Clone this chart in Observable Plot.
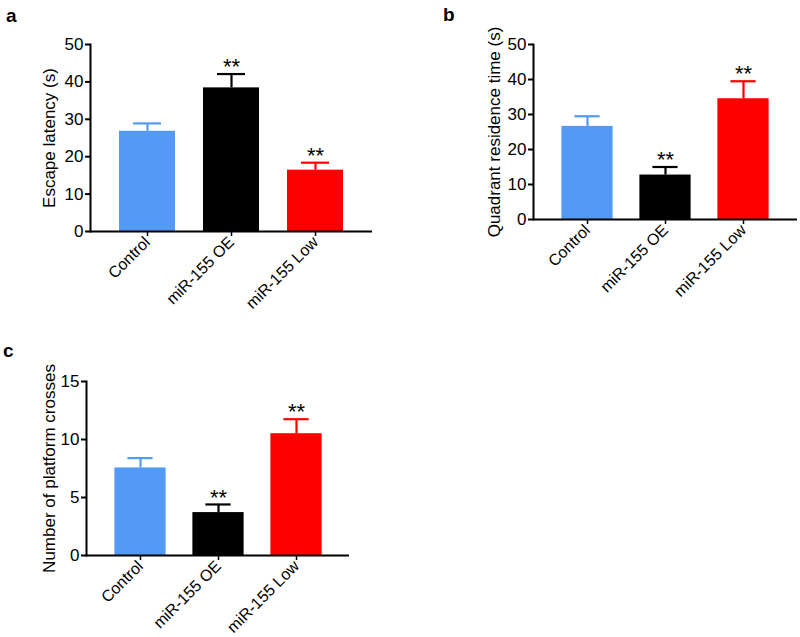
<!DOCTYPE html>
<html>
<head>
<meta charset="utf-8">
<script src="https://cdn.jsdelivr.net/npm/d3@7"></script>
<script src="https://cdn.jsdelivr.net/npm/@observablehq/plot@0.6"></script>
<style>
  html, body { margin: 0; padding: 0; background: #fff; }
  #root { position: relative; width: 800px; height: 637px; overflow: hidden; font-family: "Liberation Sans", Arial, sans-serif; }
  .panel { position: absolute; }
  .letter { position: absolute; font-weight: bold; font-size: 19px; line-height: 1; color: #000; }
</style>
</head>
<body>
<div id="root">
  <div class="letter" style="left:6px; top:6px;">a</div>
  <div class="letter" style="left:443px; top:5px;">b</div>
  <div class="letter" style="left:3px; top:341px;">c</div>
  <div id="pa" class="panel" style="left:0px; top:0px;"></div>
  <div id="pb" class="panel" style="left:420px; top:0px;"></div>
  <div id="pc" class="panel" style="left:0px; top:340px;"></div>
</div>
<script>
// ---- data ----
const categories = ["Control", "miR-155 OE", "miR-155 Low"];
const barColors = ["#5499F4", "#000000", "#FF0000"];
const significance = ["", "**", "**"];

const escapeMean = [26.8, 38.4, 16.4];
const escapeErr = [28.9, 42.1, 18.4];

const residenceMean = [26.6, 12.7, 34.5];
const residenceErr = [29.5, 15.0, 39.5];

const crossesMean = [7.55, 3.7, 10.5];
const crossesErr = [8.4, 4.4, 11.75];

const ticksA = [0, 10, 20, 30, 40, 50];
const ticksB = [0, 10, 20, 30, 40, 50];
const ticksC = [0, 5, 10, 15];

function rows(mean, err) {
  return categories.map((c, i) => ({cat: c, mean: mean[i], err: err[i], color: barColors[i], sig: significance[i]}));
}

function panel(opts) {
  const data = rows(opts.mean, opts.err);
  const step = (opts.xRange[1] - opts.xRange[0]) / categories.length;
  const inset = (step - opts.barWidth) / 2;
  const capInset = (step - opts.barWidth / 2) / 2;
  return Plot.plot({
    width: opts.width,
    height: opts.height,
    marginLeft: opts.m[0],
    marginRight: opts.m[1],
    marginTop: opts.m[2],
    marginBottom: opts.m[3],
    style: {fontFamily: '"Liberation Sans", Arial, sans-serif', fontSize: "17px", color: "#000", background: "transparent", overflow: "visible"},
    x: {domain: categories, range: opts.xRange, padding: 0, label: null},
    y: {domain: opts.yDomain, label: null},
    color: {type: "identity"},
    marks: [
      Plot.barY(data, {x: "cat", y: "mean", fill: "color", insetLeft: inset, insetRight: inset}),
      Plot.ruleX(data, {x: "cat", y1: "mean", y2: "err", stroke: "color", strokeWidth: 2.2}),
      Plot.tickY(data, {x: "cat", y: "err", stroke: "color", strokeWidth: 2.2, insetLeft: capInset, insetRight: capInset}),
      Plot.text(data, {x: "cat", y: "err", text: "sig", dy: -7, fontSize: 22, fill: "#000"}),
      Plot.ruleY([0], {stroke: "#000", strokeWidth: 2}),
      Plot.frame({anchor: "left", stroke: "#000", strokeWidth: 2}),
      Plot.axisY({ticks: opts.ticks, tickSize: 5, tickPadding: 2, strokeWidth: 2, label: opts.label, labelArrow: "none", labelAnchor: "center", labelOffset: opts.labelOffset, fontSize: 17}),
      Plot.axisX({tickSize: 5, tickPadding: 3, tickRotate: -45, strokeWidth: 1.5, label: null, fontSize: 16})
    ]
  });
}

document.getElementById("pa").append(panel({
  width: 400, height: 330, m: [90, 28, 44, 99],
  xRange: [105.3, 357.3], barWidth: 56,
  yDomain: [0, 50], ticks: ticksA,
  mean: escapeMean, err: escapeErr,
  label: "Escape latency (s)", labelOffset: 48
}));

document.getElementById("pb").append(panel({
  width: 380, height: 330, m: [113, 3, 44, 111],
  xRange: [126.6, 362.9], barWidth: 52,
  yDomain: [0, 50], ticks: ticksB,
  mean: residenceMean, err: residenceErr,
  label: "Quadrant residence time (s)", labelOffset: 46
}));

document.getElementById("pc").append(panel({
  width: 400, height: 297, m: [86, 51, 41, 82],
  xRange: [99.6, 335.9], barWidth: 52,
  yDomain: [0, 15], ticks: ticksC,
  mean: crossesMean, err: crossesErr,
  label: "Number of platform crosses", labelOffset: 44
}));
</script>
</body>
</html>
